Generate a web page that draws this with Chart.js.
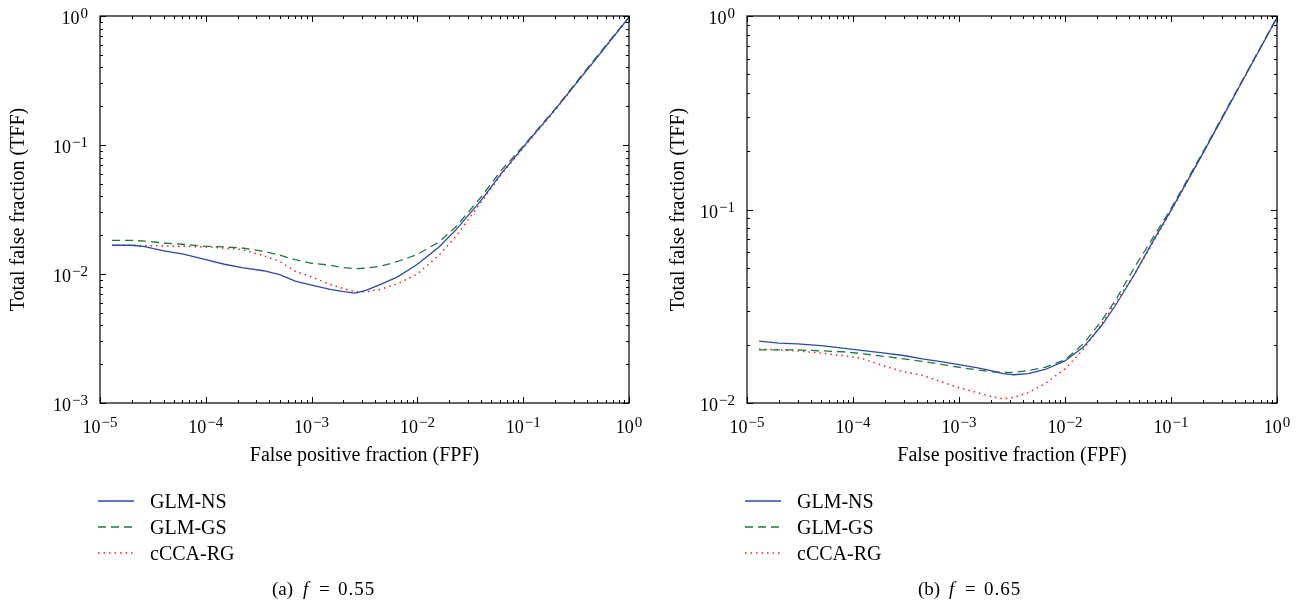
<!DOCTYPE html>
<html>
<head>
<meta charset="utf-8">
<script src="https://cdn.jsdelivr.net/npm/chart.js@4/dist/chart.umd.min.js"></script>
<style>
body { margin: 0; background: #fff; width: 1304px; height: 604px; overflow: hidden; position: relative; }
canvas { position: absolute; top: 0; }
#chartA { left: 0; }
#chartB { left: 652px; }
</style>
</head>
<body>
<canvas id="chartA" width="652" height="604"></canvas>
<canvas id="chartB" width="652" height="604"></canvas>
<script>
// panel (a) f = 0.55
const fpfA = [1.3e-5, 2e-5, 2.65e-5, 4e-5, 6e-5, 1e-4, 1.5e-4, 2.2e-4, 3.5e-4, 5e-4, 7e-4, 1e-3, 1.5e-3, 2e-3, 2.6e-3, 3.3e-3, 4.5e-3, 6.5e-3, 0.01, 0.016, 0.023, 0.04, 0.062, 0.1, 0.2, 0.45, 1.0];
const nsA = [0.0167, 0.0167, 0.0163, 0.0151, 0.0143, 0.0129, 0.0119, 0.0112, 0.0106, 0.0099, 0.0088, 0.0082, 0.0076, 0.0073, 0.0071, 0.0075, 0.0083, 0.0095, 0.0119, 0.0162, 0.0219, 0.0372, 0.060, 0.0964, 0.188, 0.43, 0.98];
const gsA = [0.0182, 0.0182, 0.0180, 0.0174, 0.0170, 0.0164, 0.0162, 0.0159, 0.0150, 0.0140, 0.0129, 0.0121, 0.0117, 0.0112, 0.0110, 0.0111, 0.0115, 0.0125, 0.0142, 0.0177, 0.0231, 0.0395, 0.0636, 0.098, 0.19, 0.44, 0.98];
const rgA = [0.0167, 0.0167, 0.0166, 0.0165, 0.0164, 0.0162, 0.0159, 0.0155, 0.0139, 0.0125, 0.0105, 0.0095, 0.0083, 0.0077, 0.0073, 0.0073, 0.0076, 0.0084, 0.0100, 0.0140, 0.0195, 0.036, 0.059, 0.095, 0.186, 0.43, 0.97];

// panel (b) f = 0.65
const fpfB = [1.3e-5, 2e-5, 3e-5, 5e-5, 8e-5, 1.2e-4, 2e-4, 3e-4, 4.5e-4, 7e-4, 1e-3, 1.5e-3, 2e-3, 2.6e-3, 3.3e-3, 4.5e-3, 6.5e-3, 0.01, 0.015, 0.022, 0.03, 0.045, 0.065, 0.1, 0.2, 0.45, 1.0];
const nsB = [0.0209, 0.0204, 0.0202, 0.0198, 0.0192, 0.0187, 0.0181, 0.0176, 0.0169, 0.0163, 0.0158, 0.0152, 0.0147, 0.0142, 0.0140, 0.0142, 0.0149, 0.0165, 0.0195, 0.0250, 0.032, 0.046, 0.066, 0.099, 0.195, 0.44, 0.98];
const gsB = [0.0188, 0.0188, 0.0188, 0.0186, 0.0184, 0.0180, 0.0174, 0.0169, 0.0164, 0.0158, 0.0153, 0.0148, 0.0145, 0.0144, 0.0144, 0.0147, 0.0153, 0.0167, 0.0203, 0.0265, 0.034, 0.050, 0.069, 0.101, 0.198, 0.445, 0.985];
const rgB = [0.0190, 0.0188, 0.0186, 0.0181, 0.0176, 0.0170, 0.0155, 0.0145, 0.0139, 0.0128, 0.0120, 0.0113, 0.0108, 0.0105, 0.0107, 0.0113, 0.0126, 0.0150, 0.0190, 0.0255, 0.033, 0.046, 0.065, 0.098, 0.195, 0.44, 0.98];

const seriesNames = ["GLM-NS", "GLM-GS", "cCCA-RG"];
const serif = '"Liberation Serif", "Times New Roman", serif';

function toPoints(xs, ys) {
    return xs.map((x, i) => ({ x: x, y: ys[i] }));
}

// 10 with a raised exponent
function powLabel(ctx, x, y, exp, align) {
    ctx.font = "18px " + serif;
    const wb = ctx.measureText("10").width;
    const sup = exp < 0 ? "\u2212" + (-exp) : String(exp);
    ctx.font = "15px " + serif;
    const ws = ctx.measureText(sup).width;
    const total = wb + 1 + ws;
    const x0 = align === "right" ? x - total : x - total / 2;
    ctx.textAlign = "left";
    ctx.textBaseline = "alphabetic";
    ctx.font = "18px " + serif;
    ctx.fillText("10", x0, y);
    ctx.font = "15px " + serif;
    ctx.fillText(sup, x0 + wb + 1, y - 6);
}

const paperLook = {
    id: "paperLook",
    afterDraw(chart, args, opts) {
        const ctx = chart.ctx;
        const { left, right, top, bottom } = chart.chartArea;
        const xs = chart.scales.x;
        const ys = chart.scales.y;
        ctx.save();
        ctx.strokeStyle = "#000";
        ctx.fillStyle = "#000";
        ctx.lineWidth = 1.2;
        ctx.setLineDash([]);
        ctx.strokeRect(left, top, right - left, bottom - top);

        // inward ticks on all sides
        ctx.lineWidth = 1;
        ctx.beginPath();
        for (let e = -5; e <= 0; e++) {
            for (let m = 1; m <= 9; m++) {
                const v = m * Math.pow(10, e);
                if (v > 1.0001) break;
                const px = Math.round(xs.getPixelForValue(v)) + 0.5;
                const len = m === 1 ? 6 : 3;
                ctx.moveTo(px, bottom); ctx.lineTo(px, bottom - len);
                ctx.moveTo(px, top); ctx.lineTo(px, top + len);
            }
        }
        for (let e = opts.yMinExp; e <= 0; e++) {
            for (let m = 1; m <= 9; m++) {
                const v = m * Math.pow(10, e);
                if (v > 1.0001) break;
                const py = Math.round(ys.getPixelForValue(v)) + 0.5;
                const len = m === 1 ? 6 : 3;
                ctx.moveTo(left, py); ctx.lineTo(left + len, py);
                ctx.moveTo(right, py); ctx.lineTo(right - len, py);
            }
        }
        ctx.stroke();

        // tick labels
        for (let e = -5; e <= 0; e++) {
            powLabel(ctx, xs.getPixelForValue(Math.pow(10, e)), bottom + 30, e, "center");
        }
        for (let e = opts.yMinExp; e <= 0; e++) {
            powLabel(ctx, left - 12, ys.getPixelForValue(Math.pow(10, e)) + 8, e, "right");
        }

        // axis titles
        ctx.font = "20px " + serif;
        ctx.textAlign = "center";
        ctx.textBaseline = "alphabetic";
        ctx.fillText("False positive fraction (FPF)", (left + right) / 2, bottom + 58);
        ctx.save();
        ctx.translate(left - opts.yTitleGap, (top + bottom) / 2);
        ctx.rotate(-Math.PI / 2);
        ctx.textBaseline = "middle";
        ctx.fillText("Total false fraction (TFF)", 0, 0);
        ctx.restore();

        // legend under the plot
        chart.data.datasets.forEach((ds, i) => {
            const rowY = 501 + i * 26;
            ctx.save();
            ctx.strokeStyle = ds.borderColor;
            ctx.lineWidth = ds.borderWidth;
            ctx.setLineDash(ds.borderDash || []);
            ctx.beginPath();
            ctx.moveTo(left - 2, rowY);
            ctx.lineTo(left + 34, rowY);
            ctx.stroke();
            ctx.restore();
            ctx.font = "20px " + serif;
            ctx.textAlign = "left";
            ctx.fillStyle = "#000";
            ctx.fillText(ds.label, left + 50, rowY + 7);
        });

        // caption
        const cx = left + opts.captionX;
        ctx.textAlign = "left";
        ctx.font = "19px " + serif;
        ctx.fillText("(" + opts.letter + ")", cx, 595);
        ctx.font = "italic 19px " + serif;
        ctx.fillText("f", cx + 31, 595);
        ctx.font = "19px " + serif;
        ctx.fillText("=", cx + 47, 595);
        ctx.letterSpacing = "1px";
        ctx.fillText(opts.f, cx + 66, 595);
        ctx.letterSpacing = "0px";
        ctx.restore();
    }
};

function makeChart(id, fpf, ns, gs, rg, yMin, padLeft, padRight, extra) {
    const ctx = document.getElementById(id).getContext("2d");
    return new Chart(ctx, {
        type: "line",
        data: {
            datasets: [{
                label: seriesNames[0],
                data: toPoints(fpf, ns),
                borderColor: "#2b4aa8",
                borderWidth: 1.3,
                pointRadius: 0
            }, {
                label: seriesNames[1],
                data: toPoints(fpf, gs),
                borderColor: "#1d7a3a",
                borderWidth: 1.3,
                borderDash: [8, 5],
                pointRadius: 0
            }, {
                label: seriesNames[2],
                data: toPoints(fpf, rg),
                borderColor: "#ff1a1a",
                borderWidth: 1.5,
                borderDash: [1.5, 4],
                pointRadius: 0
            }]
        },
        options: {
            responsive: false,
            animation: false,
            layout: { padding: { left: padLeft, right: padRight, top: 16, bottom: 201 } },
            scales: {
                x: { type: "logarithmic", min: 1e-5, max: 1, display: false },
                y: { type: "logarithmic", min: yMin, max: 1, display: false }
            },
            plugins: {
                legend: { display: false },
                tooltip: { enabled: false },
                paperLook: Object.assign({ yMinExp: Math.round(Math.log10(yMin)) }, extra)
            }
        },
        plugins: [paperLook]
    });
}

makeChart("chartA", fpfA, nsA, gsA, rgA, 1e-3, 100, 23, { letter: "a", f: "0.55", yTitleGap: 81, captionX: 172 });
makeChart("chartB", fpfB, nsB, gsB, rgB, 1e-2, 95, 27, { letter: "b", f: "0.65", yTitleGap: 68, captionX: 171 });
</script>
</body>
</html>
